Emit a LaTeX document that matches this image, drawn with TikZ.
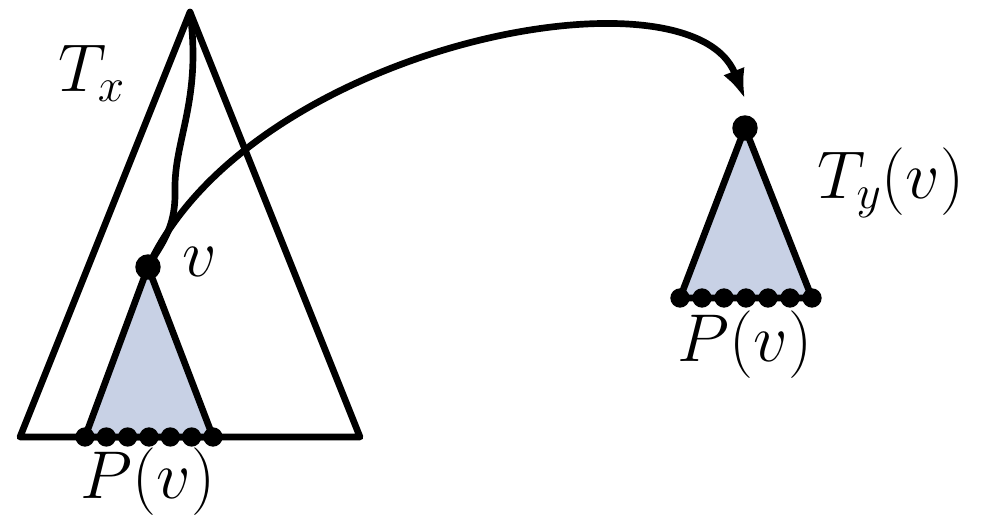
\RequirePackage{fix-cm}
\documentclass[tikz,border=0pt]{standalone}
\usepackage{amsmath}
\usepackage{tikz}
\usetikzlibrary{arrows.meta,calc}
\definecolor{SubAzul}{RGB}{200,209,229}

\tikzset{
  trazo/.style={line width=3.8pt,line join=round},
  pdot/.style={circle,fill=black,inner sep=0pt,minimum size=11pt},
  vdot/.style={circle,fill=black,inner sep=0pt,minimum size=14.5pt},
  etiq/.style={font=\fontsize{38.5}{44}\selectfont}
}

\begin{document}
\begin{tikzpicture}[x=0.02cm,y=-0.02cm,>=Latex]
  \useasboundingbox (0,0) rectangle (981,516);
  % arbol T_x
  \coordinate (raiz) at (190,12);
  \coordinate (izq) at (20,437);
  \coordinate (der) at (360,437);
  \draw[trazo] (raiz) -- (izq) -- (der) -- cycle;
  % subarbol de v
  \coordinate (vpos) at (148,267);
  \filldraw[trazo,fill=SubAzul] (vpos) -- (85,437) -- (213,437) -- cycle;
  \foreach \i in {0,...,6}
    \node[pdot] (pa\i) at ({85+\i*21.33},437) {};
  \node[vdot] (v) at (vpos) {};
  \node[etiq] (tx) at (92,73) {$T_x$};
  \node[etiq] (lv) at (200,262) {$v$};
  \node[etiq] (pva) at (148,482) {$P(v)$};
  % camino raiz -- v
  \draw[trazo] (raiz) .. controls (202,100) and (174,140) .. (175,190)
    .. controls (176,230) and (160,245) .. (v.center);
  % arbol T_y(v)
  \coordinate (vder) at (745,128);
  \filldraw[trazo,fill=SubAzul] (vder) -- (680,298) -- (812,298) -- cycle;
  \foreach \i in {0,...,6}
    \node[pdot] (pb\i) at ({680+\i*22},298) {};
  \node[vdot] (w) at (vder) {};
  \node[etiq] (ty) at (891,183) {$T_y(v)$};
  \node[etiq] (pvb) at (745,345) {$P(v)$};
  % flecha
  \coordinate (punta) at (745,99);
  \draw[trazo,-{Latex[length=17pt,width=13pt]}] (v.center)
    .. controls (250,45) and (690,-40) .. (punta);
\end{tikzpicture}
\end{document}
